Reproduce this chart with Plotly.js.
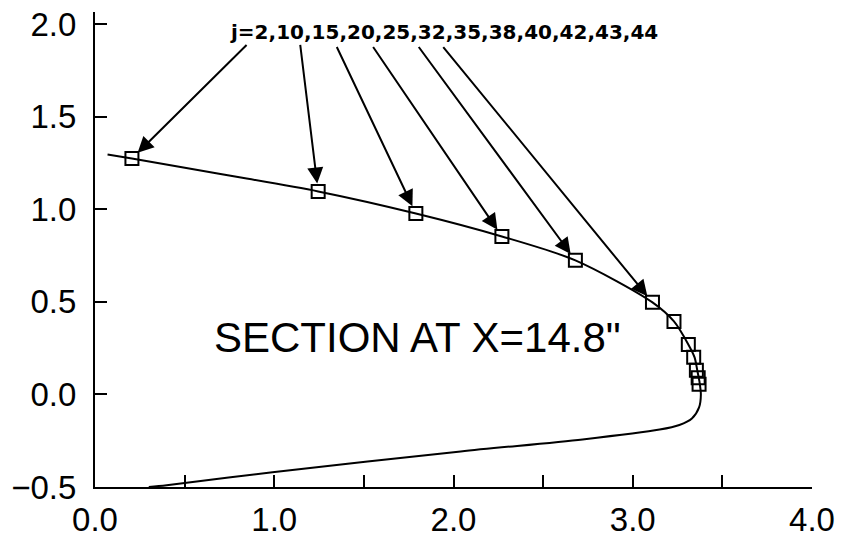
<!DOCTYPE html>
<html>
<head>
<meta charset="utf-8">
<script src="https://cdn.plot.ly/plotly-3.0.1.min.js"></script>
<style>
  html, body { margin: 0; padding: 0; background: #fff; }
  #chart { width: 841px; height: 540px; }
</style>
</head>
<body>
<div id="chart"></div>
<script>
// Cross-section contour at X = 14.8" (y vs z coordinates)
const profileX = [0.07, 0.206, 0.70, 1.245, 1.79, 2.27, 2.68, 3.11, 3.23, 3.31, 3.345, 3.36, 3.372, 3.38, 3.37, 3.33, 3.26, 3.15, 2.72, 2.04, 0.99, 0.40, 0.30];
const profileY = [1.296, 1.274, 1.19, 1.096, 0.977, 0.853, 0.724, 0.497, 0.394, 0.27, 0.20, 0.13, 0.07, 0.0, -0.07, -0.13, -0.165, -0.19, -0.243, -0.308, -0.42, -0.49, -0.50];

// Grid stations j marked with squares
const stationJ = [2, 10, 15, 20, 25, 32, 35, 38, 40, 42, 43, 44];
const stationX = [0.206, 1.245, 1.79, 2.27, 2.68, 3.11, 3.23, 3.31, 3.34, 3.355, 3.365, 3.37];
const stationY = [1.274, 1.096, 0.977, 0.853, 0.724, 0.497, 0.394, 0.27, 0.20, 0.13, 0.09, 0.055];

// Axis ticks
const xTickVals = [0, 0.5, 1, 1.5, 2, 2.5, 3, 3.5, 4];
const xTickText = ['0.0', '', '1.0', '', '2.0', '', '3.0', '', '4.0'];
const yTickVals = [-0.5, 0, 0.5, 1, 1.5, 2];
const yTickText = ['\u22120.5', '0.0', '0.5', '1.0', '1.5', '2.0'];

const sectionLabel = 'SECTION AT X=14.8"';
const stationLabel = 'j=' + stationJ.join(',');

// tails of the leader arrows (data units), one per labelled square on the upper branch
const arrowTails = [[0.854, 1.895], [1.144, 1.895], [1.345, 1.884], [1.546, 1.884], [1.80, 1.884], [1.936, 1.884]];

const traces = [
  {
    x: profileX, y: profileY, type: 'scatter', mode: 'lines',
    line: { color: '#000', width: 2, shape: 'spline', smoothing: 0.8 },
    hoverinfo: 'skip'
  },
  {
    x: stationX, y: stationY, type: 'scatter', mode: 'markers',
    marker: { symbol: 'square-open', size: 13, color: '#000', line: { width: 2, color: '#000' } },
    text: stationJ.map(j => 'j=' + j)
  }
];

const annotations = arrowTails.map((t, i) => ({
  x: stationX[i], y: stationY[i], xref: 'x', yref: 'y',
  ax: t[0], ay: t[1], axref: 'x', ayref: 'y',
  showarrow: true, arrowhead: 2, arrowsize: 1.6, arrowwidth: 2, arrowcolor: '#000',
  standoff: 8, text: ''
}));

annotations.push({
  x: 0.742, y: 1.955, xref: 'x', yref: 'y', xanchor: 'left', yanchor: 'middle',
  text: stationLabel, showarrow: false,
  font: { family: 'DejaVu Sans', size: 20, color: '#000', weight: 'bold' }
});

annotations.push({
  x: 1.80, y: 0.31, xref: 'x', yref: 'y', xanchor: 'center', yanchor: 'middle',
  text: sectionLabel, showarrow: false,
  font: { family: '"Liberation Sans", Arial, sans-serif', size: 42, color: '#000' }
});

const axisCommon = {
  showgrid: false, zeroline: false, showline: true, linecolor: '#000', linewidth: 2,
  ticks: 'inside', ticklen: 12, tickwidth: 2, tickcolor: '#000', mirror: false,
  tickfont: { family: '"Liberation Sans", Arial, sans-serif', size: 33, color: '#000' }
};

const layout = {
  width: 841, height: 540,
  margin: { l: 95, r: 29, t: 12, b: 53 },
  paper_bgcolor: '#fff', plot_bgcolor: '#fff',
  showlegend: false,
  xaxis: Object.assign({}, axisCommon, {
    range: [0, 4], tickmode: 'array', tickvals: xTickVals, ticktext: xTickText,
    ticklabelstandoff: 2
  }),
  yaxis: Object.assign({}, axisCommon, {
    range: [-0.5, 2.065], tickmode: 'array', tickvals: yTickVals, ticktext: yTickText,
    ticklabelstandoff: 10
  }),
  annotations: annotations
};

Plotly.newPlot('chart', traces, layout, { displayModeBar: false, staticPlot: true });
</script>
</body>
</html>
